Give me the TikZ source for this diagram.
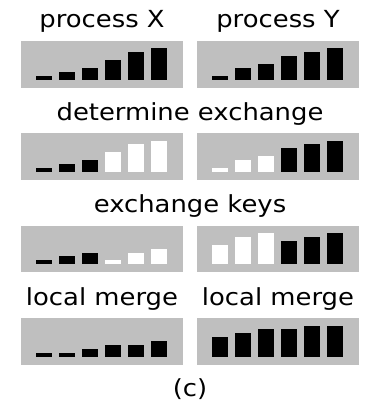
\documentclass[tikz,border=0pt]{standalone}
\usepackage{fontspec}
\setmainfont{DejaVu Sans}
\definecolor{boxgray}{RGB}{191,191,191}
\tikzset{
  panel/.style={fill=boxgray},
  bk/.style={fill=black},
  wt/.style={fill=white},
  lbl/.style={anchor=base, inner sep=0pt, font=\fontsize{23.5}{27}\selectfont}
}
\newcommand\sqz[1]{\scalebox{1.1}[1]{#1}}
\newcommand\drawpanel[3]{%
  \fill[panel] (#1,#2) rectangle ++(162,46.5);
  \foreach \h/\s [count=\i] in {#3}
    \fill[\s] ({#1+15+23*(\i-1)},{#2+38.7}) rectangle ++(16,{-3.9*\h});
}
\begin{document}
\begin{tikzpicture}[x=1pt,y=-1pt]
\useasboundingbox (0,0) rectangle (365,404);
% row 1
\node[lbl] (px) at (102,28) {\sqz{process X}};
\node[lbl] (py) at (278,28) {\sqz{process Y}};
\drawpanel{21}{41}{1/bk,2/bk,3/bk,5/bk,7/bk,8/bk}
\drawpanel{197}{41}{1/bk,3/bk,4/bk,6/bk,7/bk,8/bk}
% row 2
\node[lbl] (de) at (190,120) {\sqz{determine exchange}};
\drawpanel{21}{133}{1/bk,2/bk,3/bk,5/wt,7/wt,8/wt}
\drawpanel{197}{133}{1/wt,3/wt,4/wt,6/bk,7/bk,8/bk}
% row 3
\node[lbl] (ek) at (190,212.5) {\sqz{exchange keys}};
\drawpanel{21}{225.5}{1/bk,2/bk,3/bk,1/wt,3/wt,4/wt}
\drawpanel{197}{225.5}{5/wt,7/wt,8/wt,6/bk,7/bk,8/bk}
% row 4
\node[lbl] (lm1) at (102,305) {\sqz{local merge}};
\node[lbl] (lm2) at (278,305) {\sqz{local merge}};
\drawpanel{21}{318}{1/bk,1/bk,2/bk,3/bk,3/bk,4/bk}
\drawpanel{197}{318}{5/bk,6/bk,7/bk,7/bk,8/bk,8/bk}
% caption
\node[lbl] (cap) at (190,396) {\sqz{(c)}};
\end{tikzpicture}
\end{document}
